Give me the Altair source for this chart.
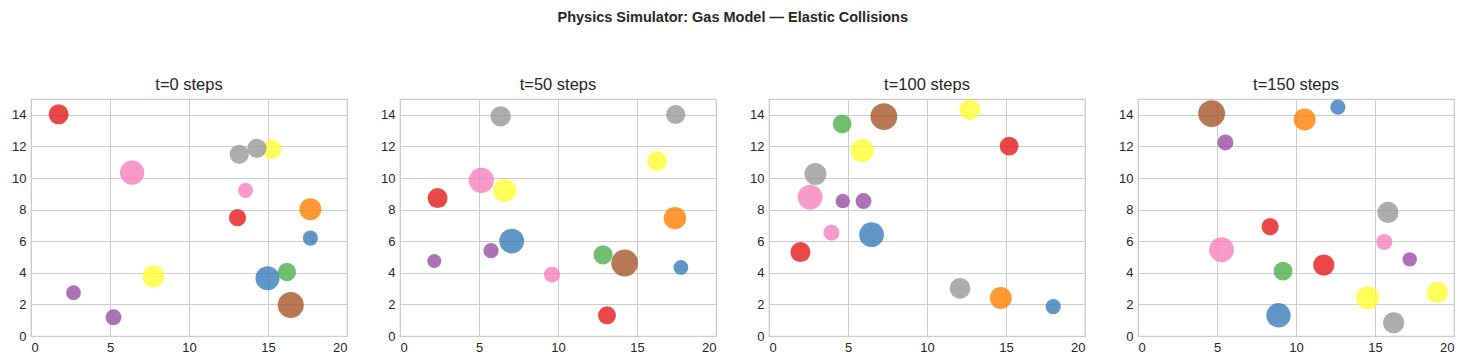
import altair as alt
import pandas as pd

# ---- data ----
steps = [0, 50, 100, 150]
colour_names = ["red", "blue", "green", "purple", "orange", "yellow", "brown", "pink", "gray"]
set1 = ["#e41a1c", "#377eb8", "#4daf4a", "#984ea3", "#ff7f00", "#ffff33", "#a65628", "#f781bf", "#999999"]

# particle colour group for each point (same order in every list below)
t0_c = ["red", "red", "blue", "blue", "green", "purple", "purple", "orange", "yellow", "yellow", "brown", "pink", "pink", "gray", "gray"]
t0_x = [1.75, 13.07, 14.97, 17.68, 16.2, 2.69, 5.22, 17.68, 15.24, 7.75, 16.44, 6.4, 13.58, 13.18, 14.3]
t0_y = [14.03, 7.49, 3.65, 6.2, 4.05, 2.74, 1.18, 8.02, 11.81, 3.76, 1.96, 10.34, 9.22, 11.5, 11.88]
t0_r = [0.50, 0.43, 0.60, 0.38, 0.46, 0.37, 0.40, 0.55, 0.48, 0.55, 0.65, 0.61, 0.38, 0.48, 0.48]

t50_c = ["red", "red", "blue", "blue", "green", "purple", "purple", "orange", "yellow", "yellow", "brown", "pink", "pink", "gray", "gray"]
t50_x = [2.38, 13.1, 7.07, 17.78, 12.85, 5.76, 2.17, 17.4, 16.27, 6.62, 14.22, 5.15, 9.62, 6.37, 17.45]
t50_y = [8.73, 1.31, 6.01, 4.34, 5.14, 5.4, 4.74, 7.46, 11.07, 9.21, 4.62, 9.85, 3.88, 13.9, 14.02]
t50_r = [0.50, 0.45, 0.62, 0.37, 0.48, 0.38, 0.35, 0.56, 0.50, 0.58, 0.67, 0.63, 0.40, 0.51, 0.48]

t100_c = ["red", "red", "blue", "blue", "green", "purple", "purple", "orange", "yellow", "yellow", "brown", "pink", "pink", "gray", "gray"]
t100_x = [1.99, 15.2, 6.49, 17.99, 4.63, 4.67, 5.98, 14.67, 12.71, 5.9, 7.27, 2.6, 3.95, 2.94, 12.09]
t100_y = [5.31, 12.02, 6.41, 1.86, 13.43, 8.54, 8.54, 2.4, 14.32, 11.74, 13.89, 8.79, 6.54, 10.25, 3.01]
t100_r = [0.50, 0.47, 0.62, 0.38, 0.47, 0.36, 0.40, 0.55, 0.52, 0.58, 0.67, 0.62, 0.40, 0.55, 0.52]

t150_c = ["red", "red", "blue", "blue", "green", "purple", "purple", "orange", "yellow", "yellow", "brown", "pink", "pink", "gray", "gray"]
t150_x = [8.36, 11.76, 8.89, 12.65, 9.18, 5.53, 17.2, 10.55, 14.54, 18.95, 4.66, 5.29, 15.59, 15.82, 16.18]
t150_y = [6.92, 4.49, 1.31, 14.48, 4.11, 12.25, 4.85, 13.7, 2.42, 2.76, 14.08, 5.46, 5.95, 7.82, 0.84]
t150_r = [0.43, 0.53, 0.61, 0.38, 0.47, 0.40, 0.36, 0.55, 0.58, 0.53, 0.67, 0.62, 0.40, 0.53, 0.53]

x_ticks = [0, 5, 10, 15, 20]
y_ticks = [0, 2, 4, 6, 8, 10, 12, 14]

frames = []
for s, cs, xs, ys, rs in [(0, t0_c, t0_x, t0_y, t0_r), (50, t50_c, t50_x, t50_y, t50_r),
                          (100, t100_c, t100_x, t100_y, t100_r), (150, t150_c, t150_x, t150_y, t150_r)]:
    frames.append(pd.DataFrame({"step": s, "colour": cs, "x": xs, "y": ys, "r": rs}))
df = pd.concat(frames, ignore_index=True)

FONT = "Liberation Sans"


def panel(step):
    return (
        alt.Chart(df)
        .transform_filter(alt.datum.step == step)
        .transform_calculate(area="datum.r * datum.r")
        .mark_circle(opacity=0.8, strokeWidth=0)
        .encode(
            x=alt.X("x:Q", scale=alt.Scale(domain=[0, 20], nice=False, zero=False),
                    axis=alt.Axis(values=x_ticks, title=None, format="d")),
            y=alt.Y("y:Q", scale=alt.Scale(domain=[0, 15], nice=False, zero=False),
                    axis=alt.Axis(values=y_ticks, title=None, format="d")),
            color=alt.Color("colour:N", scale=alt.Scale(domain=colour_names, range=set1), legend=None),
            size=alt.Size("area:Q", scale=alt.Scale(domain=[0, 1], range=[0, 1600]), legend=None),
        )
        .properties(
            width=316, height=237,
            title=alt.TitleParams(f"t={step} steps", fontSize=16.5, font=FONT, fontWeight="normal",
                                  color="#262626", baseline="alphabetic", offset=-7),
        )
    )


chart = (
    alt.hconcat(*[panel(s) for s in steps], spacing=31)
    .properties(
        title=alt.TitleParams("Physics Simulator: Gas Model — Elastic Collisions", fontSize=14.5,
                              font=FONT, fontWeight="bold", color="#262626", anchor="middle",
                              baseline="top", offset=50),
        padding={"left": 2, "top": 2, "right": 5, "bottom": 5},
        background="white",
    )
    .configure_view(stroke="#cccccc", strokeWidth=1.25)
    .configure_axis(grid=True, gridColor="#cccccc", gridWidth=1, domain=False, ticks=False,
                    labelFont=FONT, labelFontSize=13, labelColor="#262626", labelPadding=5)
)

chart.save("out.html", embed_options={"renderer": "svg", "actions": False})
